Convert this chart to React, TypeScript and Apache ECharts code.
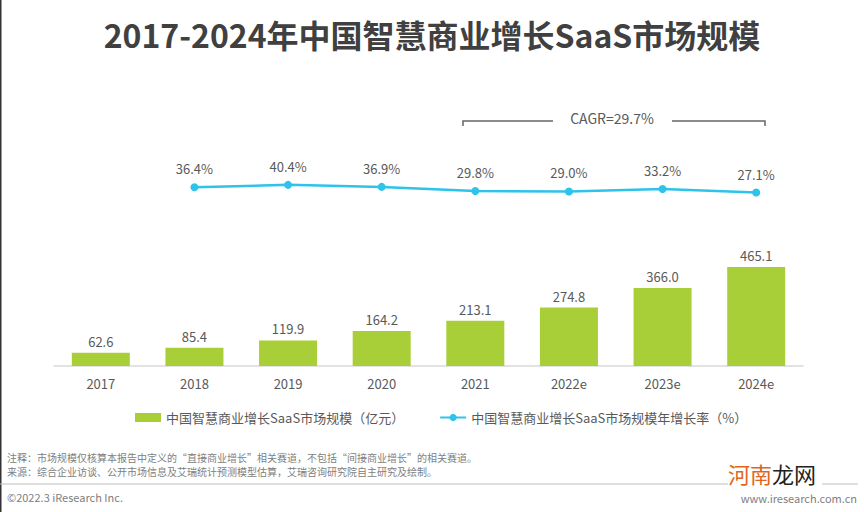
import React, { useEffect, useRef } from "react";
import * as echarts from "echarts";

const years = ["2017", "2018", "2019", "2020", "2021", "2022e", "2023e", "2024e"];
const marketSize = [62.6, 85.4, 119.9, 164.2, 213.1, 274.8, 366.0, 465.1];
const growthRate = [36.4, 40.4, 36.9, 29.8, 29.0, 33.2, 27.1];
const growthYears = years.slice(1);
const barName = "中国智慧商业增长SaaS市场规模（亿元）";
const lineName = "中国智慧商业增长SaaS市场规模年增长率（%）";
const titleText = "2017-2024年中国智慧商业增长SaaS市场规模";
const cagrText = "CAGR=29.7%";
const note1 = "注释：市场规模仅核算本报告中定义的“直接商业增长”相关赛道，不包括“间接商业增长”的相关赛道。";
const note2 = "来源：综合企业访谈、公开市场信息及艾瑞统计预测模型估算，艾瑞咨询研究院自主研究及绘制。";
const copyright = "©2022.3 iResearch Inc.";
const site = "www.iresearch.com.cn";

const FONT = "'Noto Sans CJK SC', 'Noto Sans', sans-serif";
const TXT = "#595959";

export default function App() {
  const ref = useRef<HTMLDivElement>(null);
  useEffect(() => {
    if (!ref.current) return;
    const chart = echarts.init(ref.current, null, { renderer: "svg" });
    chart.setOption({
      animation: false,
      backgroundColor: "#ffffff",
      textStyle: { fontFamily: FONT },
      title: {
        text: titleText,
        left: "center",
        top: 13,
        textStyle: { fontSize: 32, fontWeight: "bold", color: "#404040", fontFamily: FONT },
      },
      grid: { left: 54, right: 61, top: 50, bottom: 146 },
      legend: {
        left: 130,
        top: 406,
        itemGap: 35,
        itemWidth: 26,
        itemHeight: 9,
        textStyle: { fontSize: 13, color: TXT, fontFamily: FONT },
        data: [
          { name: barName, icon: "rect" },
          { name: lineName },
        ],
      },
      xAxis: {
        type: "category",
        data: years,
        axisLine: { lineStyle: { color: "#d9d9d9", width: 1.5 } },
        axisTick: { show: false },
        axisLabel: { fontSize: 13, color: TXT, margin: 11, fontFamily: FONT },
      },
      yAxis: [
        { type: "value", min: 0, max: 1484.6, show: false, splitLine: { show: false } },
        { type: "value", min: -272, max: 273, show: false, splitLine: { show: false } },
      ],
      series: [
        {
          name: barName,
          type: "bar",
          data: marketSize,
          barWidth: 58,
          itemStyle: { color: "#A9CF38" },
          label: {
            show: true,
            position: "top",
            distance: 5,
            fontSize: 13,
            color: TXT,
            fontFamily: FONT,
            formatter: (p: any) => Number(p.value).toFixed(1),
          },
        },
        {
          name: lineName,
          type: "line",
          yAxisIndex: 1,
          data: growthYears.map((y, i) => [y, growthRate[i]]),
          symbol: "circle",
          symbolSize: 8,
          lineStyle: { color: "#2DC3EA", width: 2.5 },
          itemStyle: { color: "#2DC3EA" },
          label: {
            show: true,
            position: "top",
            distance: 8,
            fontSize: 13,
            color: TXT,
            fontFamily: FONT,
            formatter: (p: any) => Number(p.value[1]).toFixed(1) + "%",
          },
        },
      ],
      graphic: [
        { type: "rect", shape: { x: 0, y: 0, width: 1.5, height: 512 }, style: { fill: "#333333" } },
        {
          type: "polyline",
          shape: { points: [[463, 126], [463, 121], [553, 121]] },
          style: { stroke: "#666666", lineWidth: 1.5, fill: "none" },
        },
        {
          type: "polyline",
          shape: { points: [[672, 121], [765, 121], [765, 126]] },
          style: { stroke: "#666666", lineWidth: 1.5, fill: "none" },
        },
        {
          type: "text",
          x: 612,
          y: 118,
          style: { text: cagrText, font: `14px ${FONT}`, fill: TXT, align: "center", verticalAlign: "middle" },
        },
        {
          type: "text",
          x: 7,
          y: 457,
          style: { text: note1, font: `10px ${FONT}`, fill: "#808080", verticalAlign: "middle" },
        },
        {
          type: "text",
          x: 7,
          y: 471,
          style: { text: note2, font: `10px ${FONT}`, fill: "#808080", verticalAlign: "middle" },
        },
        {
          type: "line",
          shape: { x1: 0, y1: 484, x2: 728, y2: 484 },
          style: { stroke: "#bfbfbf", lineWidth: 1 },
        },
        {
          type: "line",
          shape: { x1: 822, y1: 484, x2: 858, y2: 484 },
          style: { stroke: "#bfbfbf", lineWidth: 1 },
        },
        {
          type: "text",
          x: 7,
          y: 497,
          style: { text: copyright, font: `11px ${FONT}`, fill: "#808080", verticalAlign: "middle" },
        },
        {
          type: "text",
          x: 857,
          y: 498,
          style: { text: site, font: `11px ${FONT}`, fill: "#808080", align: "right", verticalAlign: "middle" },
        },
        {
          type: "text",
          x: 728,
          y: 473,
          style: {
            text: "{a|河南}{b|龙网}",
            verticalAlign: "middle",
            rich: {
              a: { fontSize: 22, fontFamily: FONT, fill: "#E0661E", color: "#E0661E", lineHeight: 24 },
              b: { fontSize: 22, fontFamily: FONT, fill: "#222222", color: "#222222", lineHeight: 24 },
            },
          },
        },
      ],
    });
    return () => chart.dispose();
  }, []);
  return (
    <div
      ref={ref}
      style={{ position: "fixed", left: 0, top: 0, width: 864, height: 512 }}
    />
  );
}
